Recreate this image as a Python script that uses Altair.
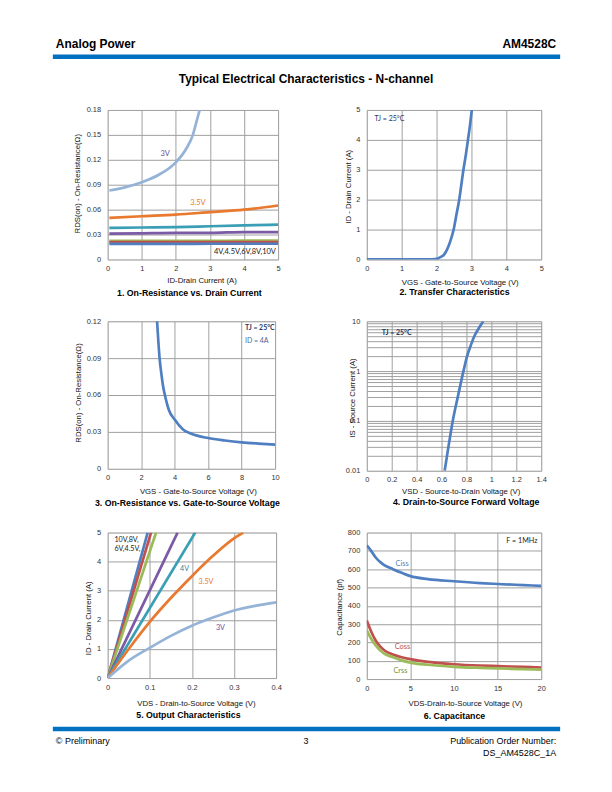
import altair as alt
import pandas as pd

FONT = "Liberation Sans"
ANN_FONT = "Lato"
GRID = "#A0A0A0"
BAR = "#0070C0"
NAVY = "#1F3864"

# ---------------- data ----------------
# Panel 1: RDS(on) vs ID
p1_names = ["3V", "3.5V", "4V", "4.5V", "6V", "8V", "10V"]
p1_colors = ["#95B3D7", "#E8792F", "#3A9FB5", "#7B5BA6", "#9BBB59", "#C0504D", "#4F7FC0"]
p1_x_3v = [0.05, 0.5, 1.0, 1.5, 2.0, 2.3, 2.5, 2.6, 2.7]
p1_y_3v = [0.083, 0.0868, 0.093, 0.102, 0.117, 0.133, 0.150, 0.165, 0.180]
p1_x = [0.05, 1.0, 2.0, 3.0, 4.0, 5.0]
p1_y_35v = [0.050, 0.052, 0.054, 0.057, 0.060, 0.065]
p1_y_4v = [0.038, 0.0385, 0.039, 0.040, 0.041, 0.042]
p1_y_45v = [0.031, 0.0315, 0.032, 0.032, 0.033, 0.033]
p1_y_6v = [0.0224, 0.0224, 0.0225, 0.0225, 0.0226, 0.0226]
p1_y_8v = [0.0208, 0.0208, 0.0208, 0.0209, 0.0209, 0.0209]
p1_y_10v = [0.0188, 0.0188, 0.0188, 0.0189, 0.0189, 0.0189]

# Panel 2: transfer characteristics
p2_x = [0.0, 1.8, 1.95, 2.05, 2.15, 2.2, 2.3, 2.4, 2.49, 2.57, 2.65, 2.71, 2.77, 2.84, 2.9, 2.96, 3.01]
p2_y = [0.0, 0.0, 0.01, 0.04, 0.1, 0.14, 0.33, 0.63, 1.0, 1.5, 2.0, 2.5, 3.0, 3.5, 4.0, 4.5, 5.0]

# Panel 3: RDS(on) vs VGS
p3_x = [2.95, 3.02, 3.1, 3.2, 3.3, 3.45, 3.65, 4.0, 4.5, 5.0, 6.0, 7.0, 8.0, 9.0, 10.0]
p3_y = [0.12, 0.105, 0.09, 0.078, 0.068, 0.058, 0.048, 0.040, 0.032, 0.0285, 0.025, 0.023, 0.0215, 0.0205, 0.0197]

# Panel 4: body diode forward voltage
p4_x = [0.625, 0.655, 0.69, 0.73, 0.776, 0.805, 0.835, 0.863, 0.9, 0.935]
p4_y = [0.01, 0.03, 0.1, 0.3, 1.0, 2.0, 3.3, 5.0, 7.3, 10.0]

# Panel 5: output characteristics
p5_names = ["10V", "8V", "6V", "4.5V", "4V", "3.5V", "3V"]
p5_colors = ["#4F7FC0", "#C0504D", "#9BBB59", "#7B5BA6", "#3A9FB5", "#E8792F", "#95B3D7"]
p5_x_10v = [0.0, 0.095]
p5_y_10v = [0.0, 5.0]
p5_x_8v = [0.0, 0.103]
p5_y_8v = [0.0, 5.0]
p5_x_6v = [0.0, 0.115]
p5_y_6v = [0.0, 5.0]
p5_x_45v = [0.0, 0.166]
p5_y_45v = [0.0, 5.0]
p5_x_4v = [0.0, 0.208]
p5_y_4v = [0.0, 5.0]
p5_x_35v = [0.0, 0.05, 0.1, 0.15, 0.2, 0.25, 0.3, 0.322]
p5_y_35v = [0.0, 1.0, 1.93, 2.75, 3.5, 4.2, 4.8, 5.0]
p5_x_3v = [0.0, 0.05, 0.1, 0.15, 0.2, 0.25, 0.3, 0.35, 0.4]
p5_y_3v = [0.0, 0.6, 1.04, 1.45, 1.8, 2.08, 2.32, 2.48, 2.6]

# Panel 6: capacitance
p6_names = ["Ciss", "Coss", "Crss"]
p6_colors = ["#4F7FC0", "#C0504D", "#9BBB59"]
p6_x = [0.0, 0.5, 1.0, 1.5, 2.0, 3.0, 4.0, 5.0, 7.0, 10.0, 13.0, 15.0, 18.0, 20.0]
p6_ciss = [730, 700, 665, 640, 622, 600, 580, 562, 546, 534, 524, 519, 513, 509]
p6_coss = [320, 260, 212, 180, 157, 134, 119, 109, 94, 81, 74, 71, 66, 63]
p6_crss = [266, 220, 185, 158, 139, 119, 102, 90, 78, 67, 61, 58, 54, 51]

# ---------------- helpers ----------------
ONE = pd.DataFrame({"k": [0]})


def long_df(series):
    rows = []
    for name, xs, ys in series:
        for i, (x, y) in enumerate(zip(xs, ys)):
            rows.append({"s": name, "x": x, "y": y, "i": i})
    return pd.DataFrame(rows)


def axis(values, pad, label_expr=None):
    kw = dict(values=values, grid=True, gridColor=GRID, gridWidth=1, ticks=False,
              domain=False, labelFont=FONT, labelFontSize=7.5, labelColor="#333333",
              labelPadding=pad, title=None, format=".6~g", labelOverlap=False,
              labelFlush=False, labelBound=False)
    if label_expr:
        kw["labelExpr"] = label_expr
    return alt.Axis(**kw)


def pix_text(text, x, y, size=7.8, bold=False, angle=0, align="center",
             baseline="middle", color="#111111", font=FONT):
    return alt.Chart(ONE).mark_text(
        text=text, fontSize=size, fontWeight="bold" if bold else "normal",
        angle=angle, align=align, baseline=baseline, color=color, font=font
    ).encode(x=alt.value(x), y=alt.value(y))


def make_panel(w, h, df, names, colors, xdom, ydom, xvals, yvals, anns,
               ytitle, ytx, yty, xtitle, xtx, xty, caption, cx, cy,
               ylog=False, ylabel_expr=None):
    xenc = alt.X("x:Q", scale=alt.Scale(domain=xdom, nice=False, zero=False),
                 axis=axis(xvals, 5))
    yscale = (alt.Scale(type="log", domain=ydom, nice=False) if ylog
              else alt.Scale(domain=ydom, nice=False, zero=False))
    yenc = alt.Y("y:Q", scale=yscale, axis=axis(yvals, 7, ylabel_expr))
    lines = alt.Chart(df).mark_line(strokeWidth=2.7, interpolate="monotone", clip=True).encode(
        x=xenc, y=yenc,
        color=alt.Color("s:N", scale=alt.Scale(domain=names, range=colors), legend=None),
        order=alt.Order("i:Q"),
    )
    layers = [lines]
    for (ax, ay, t, c, bold, size) in anns:
        layers.append(
            alt.Chart(pd.DataFrame({"x": [ax], "y": [ay]})).mark_text(
                text=t, color=c, fontWeight="bold" if bold else "normal",
                align="left", baseline="middle", font=ANN_FONT, fontSize=size
            ).encode(x=xenc, y=yenc)
        )
    layers.append(pix_text(ytitle, ytx, yty, angle=270))
    layers.append(pix_text(xtitle, xtx, xty))
    layers.append(pix_text(caption, cx, cy, size=8.8, bold=True, color="#000000"))
    return layers, (w, h)


# ---------------- panels ----------------
df1 = long_df([("3V", p1_x_3v, p1_y_3v), ("3.5V", p1_x, p1_y_35v), ("4V", p1_x, p1_y_4v),
               ("4.5V", p1_x, p1_y_45v), ("6V", p1_x, p1_y_6v), ("8V", p1_x, p1_y_8v),
               ("10V", p1_x, p1_y_10v)])
L1, s1 = make_panel(171, 150, df1, p1_names, p1_colors, [0, 5], [0, 0.18],
                    [0, 1, 2, 3, 4, 5], [0, 0.03, 0.06, 0.09, 0.12, 0.15, 0.18],
                    [(1.55, 0.127, "3V", "#6B4E9B", False, 7.5),
                     (2.42, 0.068, "3.5V", "#E8792F", False, 7.5),
                     (3.12, 0.009, "4V,4.5V,6V,8V,10V", "#222222", False, 7.5)],
                    "RDS(on) - On-Resistance(Ω)", -29.7, 74,
                    "ID-Drain Current (A)", 94.7, 172,
                    "1. On-Resistance vs. Drain Current", 82, 184)

# page decorations placed relative to panel 1 plot origin (page 107,108)
page = [
    alt.Chart(ONE).mark_rect(opacity=0).encode(
        x=alt.value(-99), x2=alt.value(497), y=alt.value(-100), y2=alt.value(676)),
    alt.Chart(ONE).mark_rule(color=BAR, strokeWidth=4.5).encode(
        x=alt.value(-55), x2=alt.value(454), y=alt.value(-53.5)),
    alt.Chart(ONE).mark_rule(color=BAR, strokeWidth=4.5).encode(
        x=alt.value(-55), x2=alt.value(454), y=alt.value(621)),
    pix_text("Analog Power", -52, -62, size=12, bold=True, align="left",
             baseline="alphabetic", color="#000000"),
    pix_text("AM4528C", 450, -62, size=12, bold=True, align="right",
             baseline="alphabetic", color="#000000"),
    pix_text("Typical Electrical Characteristics - N-channel", 199, -27, size=12,
             bold=True, baseline="alphabetic", color="#000000"),
    pix_text("© Preliminary", -52, 636, size=9, align="left", baseline="alphabetic",
             color="#000000"),
    pix_text("3", 199, 636, size=9, baseline="alphabetic", color="#000000"),
    pix_text("Publication Order Number:", 450, 636, size=9, align="right",
             baseline="alphabetic", color="#000000"),
    pix_text("DS_AM4528C_1A", 450, 648, size=9, align="right",
             baseline="alphabetic", color="#000000"),
]
panel1 = alt.layer(*(page + L1)).properties(width=s1[0], height=s1[1])

df2 = long_df([("ID", p2_x, p2_y)])
L2, s2 = make_panel(175, 150, df2, ["ID"], ["#4F7FC0"], [0, 5], [0, 5],
                    [0, 1, 2, 3, 4, 5], [0, 1, 2, 3, 4, 5],
                    [(0.22, 4.7, "TJ = 25°C", NAVY, False, 7)],
                    "ID - Drain Current (A)", -17.7, 77,
                    "VGS - Gate-to-Source Voltage (V)", 93.7, 173.5,
                    "2. Transfer Characteristics", 88, 183)
panel2 = alt.layer(*L2).properties(width=s2[0], height=s2[1])

df3 = long_df([("R", p3_x, p3_y)])
L3, s3 = make_panel(168, 148, df3, ["R"], ["#4F7FC0"], [0, 10], [0, 0.12],
                    [0, 2, 4, 6, 8, 10], [0, 0.03, 0.06, 0.09, 0.12],
                    [(8.2, 0.1146, "TJ = 25°C", NAVY, True, 7),
                     (8.2, 0.104, "ID = 4A", "#4A6A9A", False, 7)],
                    "RDS(on) - On-Resistance(Ω)", -28.7, 72,
                    "VGS - Gate-to-Source Voltage (V)", 91, 171,
                    "3. On-Resistance vs. Gate-to-Source Voltage", 80, 182.7)
panel3 = alt.layer(*L3).properties(width=s3[0], height=s3[1])

p4_grid = sorted({round(m * 10.0 ** e, 4) for e in (-2, -1, 0) for m in range(1, 10)} | {10.0})
df4 = long_df([("IS", p4_x, p4_y)])
L4, s4 = make_panel(175, 150, df4, ["IS"], ["#4F7FC0"], [0, 1.4], [0.01, 10],
                    [0, 0.2, 0.4, 0.6, 0.8, 1.0, 1.2, 1.4], p4_grid,
                    [(0.12, 5.75, "TJ = 25°C", NAVY, True, 7)],
                    "IS - Source Current (A)", -13.7, 77,
                    "VSD - Source-to-Drain Voltage (V)", 94.7, 171,
                    "4. Drain-to-Source Forward Voltage", 99.7, 181.7,
                    ylog=True,
                    ylabel_expr="indexof([0.01, 0.1, 1, 10], datum.value) >= 0 ? datum.label : ''")
panel4 = alt.layer(*L4).properties(width=s4[0], height=s4[1])

df5 = long_df([("10V", p5_x_10v, p5_y_10v), ("8V", p5_x_8v, p5_y_8v), ("6V", p5_x_6v, p5_y_6v),
               ("4.5V", p5_x_45v, p5_y_45v), ("4V", p5_x_4v, p5_y_4v),
               ("3.5V", p5_x_35v, p5_y_35v), ("3V", p5_x_3v, p5_y_3v)])
L5, s5 = make_panel(169, 146, df5, p5_names, p5_colors, [0, 0.4], [0, 5],
                    [0, 0.1, 0.2, 0.3, 0.4], [0, 1, 2, 3, 4, 5],
                    [(0.016, 4.74, "10V,8V,", "#222222", False, 7.2),
                     (0.016, 4.43, "6V,4.5V,", "#222222", False, 7.2),
                     (0.172, 3.76, "4V", "#31849B", False, 7.2),
                     (0.216, 3.3, "3.5V", "#E8792F", False, 7.2),
                     (0.257, 1.72, "3V", "#6B4E9B", False, 7.2)],
                    "ID - Drain Current (A)", -18.7, 86,
                    "VDS - Drain-to-Source Voltage (V)", 89, 172,
                    "5. Output Characteristics", 81, 183)
panel5 = alt.layer(*L5).properties(width=s5[0], height=s5[1])

df6 = long_df([("Ciss", p6_x, p6_ciss), ("Coss", p6_x, p6_coss), ("Crss", p6_x, p6_crss)])
L6, s6 = make_panel(175, 147, df6, p6_names, p6_colors, [0, 20], [0, 800],
                    [0, 5, 10, 15, 20], [0, 100, 200, 300, 400, 500, 600, 700, 800],
                    [(3.3, 628, "Ciss", "#4F7FC0", False, 7.5),
                     (3.2, 176, "Coss", "#C0504D", False, 7.5),
                     (3.05, 45, "Crss", "#76923C", False, 7.5),
                     (16.0, 755, "F = 1MHz", "#222222", False, 7.2)],
                    "Capacitance (pf)", -27, 75,
                    "VDS-Drain-to-Source Voltage (V)", 99, 172,
                    "6. Capacitance", 88, 183.7)
panel6 = alt.layer(*L6).properties(width=s6[0], height=s6[1])

chart = alt.concat(
    panel1, panel2, panel3, panel4, panel5, panel6,
    columns=2, spacing={"row": 62, "column": 89}, bounds="flush", padding=0,
).resolve_scale(color="independent").configure_view(
    stroke="#808080", strokeWidth=1).configure(font=FONT)

chart.save("out.html", embed_options={"renderer": "svg", "actions": False})
